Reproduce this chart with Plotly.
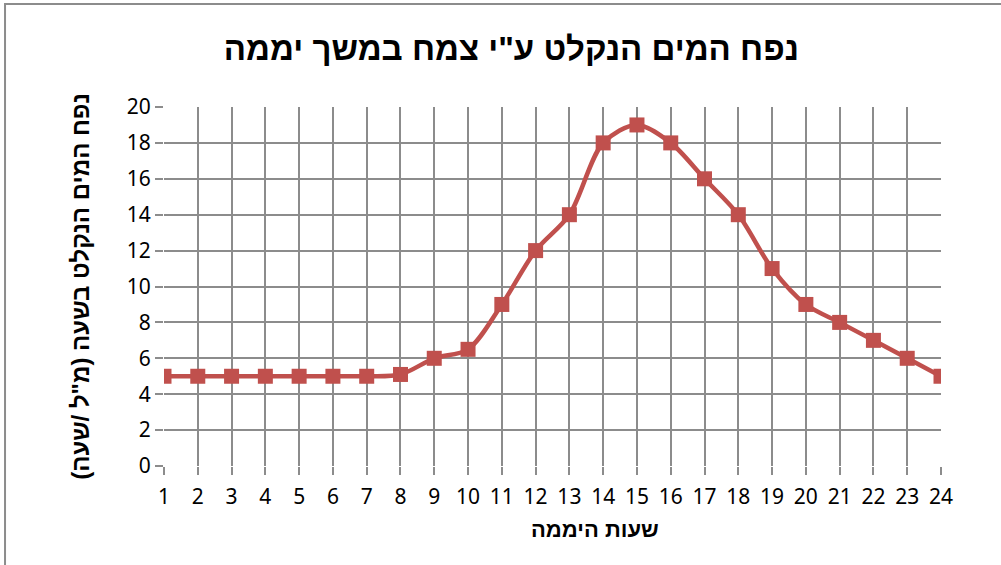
import plotly.graph_objects as go

hours = list(range(1, 25))
values = [5, 5, 5, 5, 5, 5, 5, 5.1, 6, 6.5, 9, 12, 14, 18, 19, 18, 16, 14, 11, 9, 8, 7, 6, 5]
y_ticks = list(range(0, 21, 2))

title_text = 'נפח המים הנקלט ע"י צמח במשך יממה'
x_title = 'שעות היממה'
y_title = 'נפח המים הנקלט בשעה (מ"ל /שעה)'

grid = "#8c8c8c"
red = "#C0504D"

fig = go.Figure()
fig.add_trace(go.Scatter(
    x=hours, y=values, mode="lines+markers",
    line=dict(color=red, width=4.5, shape="spline", smoothing=0.9),
    marker=dict(symbol="square", size=15, color=red),
    showlegend=False, hoverinfo="x+y",
))

fig.update_layout(
    width=1001, height=565,
    margin=dict(l=164, r=60, t=107, b=99),
    paper_bgcolor="white", plot_bgcolor="white",
    title=dict(text="<b>" + title_text + "</b>", x=0.447, xref="paper", y=0.915, yanchor="middle",
               xanchor="center", font=dict(family="Liberation Sans, Arial", size=33, color="black")),
    xaxis=dict(range=[1, 24], tickmode="array", tickvals=hours, ticktext=[str(h) for h in hours],
               showgrid=True, gridcolor=grid, gridwidth=2, zeroline=False,
               ticks="outside", ticklen=8, tickcolor=grid, tickwidth=2,
               showline=False, ticklabelstandoff=4,
               tickfont=dict(family="Noto Sans", size=21, color="black")),
    yaxis=dict(range=[0, 20], tickmode="array", tickvals=y_ticks,
               showgrid=True, gridcolor=grid, gridwidth=2, zeroline=False,
               ticks="outside", ticklen=8, tickcolor=grid, tickwidth=2,
               tickfont=dict(family="Noto Sans", size=21, color="black"),
               title=dict(text="<b>" + y_title + "</b>", standoff=30,
                          font=dict(family="Liberation Sans, Arial", size=24, color="black"))),
    annotations=[dict(text="<b>" + x_title + "</b>", xref="paper", yref="paper",
                      x=0.555, y=-0.178, xanchor="center", yanchor="middle", showarrow=False,
                      font=dict(family="Liberation Sans, Arial", size=22, color="black"))],
    shapes=[dict(type="rect", xref="paper", yref="paper",
                 x0=-0.2046, x1=1.2, y0=-0.4, y1=1.287,
                 line=dict(color="#8c8c8c", width=2), fillcolor="rgba(0,0,0,0)", layer="below")],
)

fig.write_html("out.html", post_script="document.body.style.margin='0';",
               config={"responsive": False, "displayModeBar": False})
